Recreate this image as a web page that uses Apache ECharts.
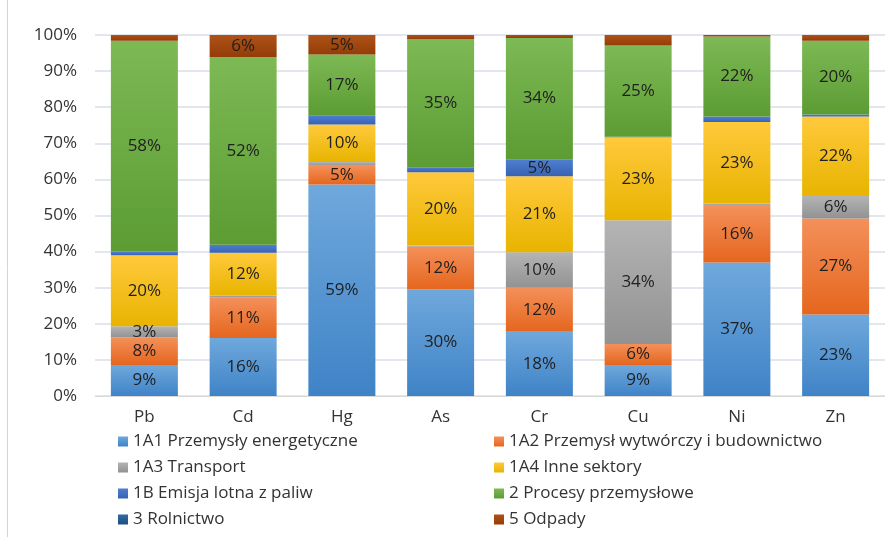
<!DOCTYPE html>
<html>
<head>
<meta charset="utf-8">
<script src="https://cdn.jsdelivr.net/npm/echarts@6/dist/echarts.min.js"></script>
<style>
  html, body { margin: 0; padding: 0; background: #fff; }
  #chart { width: 885px; height: 537px; }
</style>
</head>
<body>
<div id="chart"></div>
<script>
// Share of each emission source per heavy metal (%)
const metals = ['Pb', 'Cd', 'Hg', 'As', 'Cr', 'Cu', 'Ni', 'Zn'];

const seriesNames = [
  '1A1 Przemysły energetyczne',
  '1A2 Przemysł wytwórczy i budownictwo',
  '1A3 Transport',
  '1A4 Inne sektory',
  '1B Emisja lotna z paliw',
  '2 Procesy przemysłowe',
  '3 Rolnictwo',
  '5 Odpady'
];

const energy      = [8.6, 16.1, 58.6, 29.6, 17.8, 8.6, 37.0, 22.6];
const manufacture = [7.7, 11.2, 5.2, 11.8, 12.2, 5.8, 15.7, 26.6];
const transport   = [3.0, 0.6, 1.0, 0.3, 9.8, 34.3, 0.6, 6.2];
const otherSect   = [19.7, 11.8, 10.4, 20.3, 21.1, 23.0, 22.6, 22.0];
const fugitive    = [1.0, 2.2, 2.6, 1.4, 4.7, 0.1, 1.5, 0.6];
const industrial  = [58.4, 52.0, 16.8, 35.4, 33.6, 25.3, 22.2, 20.4];
const agriculture = [0, 0, 0, 0, 0, 0, 0, 0];
const waste       = [1.6, 6.1, 5.4, 1.2, 0.8, 2.9, 0.4, 1.6];

const yTicks = [0, 10, 20, 30, 40, 50, 60, 70, 80, 90, 100];

const seriesData = [energy, manufacture, transport, otherSect, fugitive, industrial, agriculture, waste];

// light top / dark bottom for each source
const palette = [
  ['#6FA8DC', '#3F83C7'],
  ['#F4905A', '#E5661E'],
  ['#B4B4B4', '#929292'],
  ['#FFC93C', '#E8B400'],
  ['#4F7FD0', '#3862B4'],
  ['#7DB955', '#5C9C33'],
  ['#2E6BA3', '#1E4F7E'],
  ['#AE5218', '#933D07']
];

const font = '"Open Sans", "Noto Sans", sans-serif';

function grad(c) {
  return new echarts.graphic.LinearGradient(0, 0, 0, 1, [
    { offset: 0, color: c[0] },
    { offset: 1, color: c[1] }
  ]);
}

const series = seriesNames.map((name, i) => ({
  name: name,
  type: 'bar',
  stack: 'total',
  barWidth: 67,
  data: seriesData[i],
  itemStyle: { color: grad(palette[i]) },
  label: {
    show: true,
    position: 'inside',
    color: '#1f1f1f',
    fontFamily: font,
    fontSize: 17,
    formatter: p => (p.value >= 3 ? Math.round(p.value) + '%' : '')
  }
}));

const legendText = { color: '#333333', fontFamily: font, fontSize: 17, lineHeight: 17 };

const chart = echarts.init(document.getElementById('chart'), null, { renderer: 'canvas' });
chart.setOption({
  animation: false,
  backgroundColor: '#ffffff',
  grid: { left: 95, right: -2, top: 35, bottom: 141 },
  xAxis: {
    type: 'category',
    data: metals,
    axisTick: { show: false },
    axisLine: { lineStyle: { color: '#d9d9d9', width: 1 } },
    axisLabel: { color: '#333333', fontFamily: font, fontSize: 17, margin: 13 }
  },
  yAxis: {
    type: 'value',
    min: yTicks[0],
    max: yTicks[yTicks.length - 1],
    interval: yTicks[1] - yTicks[0],
    axisLabel: { color: '#333333', fontFamily: font, fontSize: 17, margin: 18, formatter: v => v + '%' },
    splitLine: { lineStyle: { color: '#e3e6ec', width: 2 } },
    axisLine: { show: false },
    axisTick: { show: false }
  },
  legend: [
    {
      data: [seriesNames[0], seriesNames[2], seriesNames[4], seriesNames[6]],
      orient: 'vertical', left: 113, top: 428, itemGap: 9,
      itemWidth: 10, itemHeight: 10, icon: 'rect',
      textStyle: legendText
    },
    {
      data: [seriesNames[1], seriesNames[3], seriesNames[5], seriesNames[7]],
      orient: 'vertical', left: 489, top: 428, itemGap: 9,
      itemWidth: 10, itemHeight: 10, icon: 'rect',
      textStyle: legendText
    }
  ],
  graphic: [
    {
      type: 'line',
      shape: { x1: 7.5, y1: 0, x2: 7.5, y2: 537 },
      style: { stroke: '#d4d4d4', lineWidth: 1 }
    }
  ],
  series: series
});
</script>
</body>
</html>
